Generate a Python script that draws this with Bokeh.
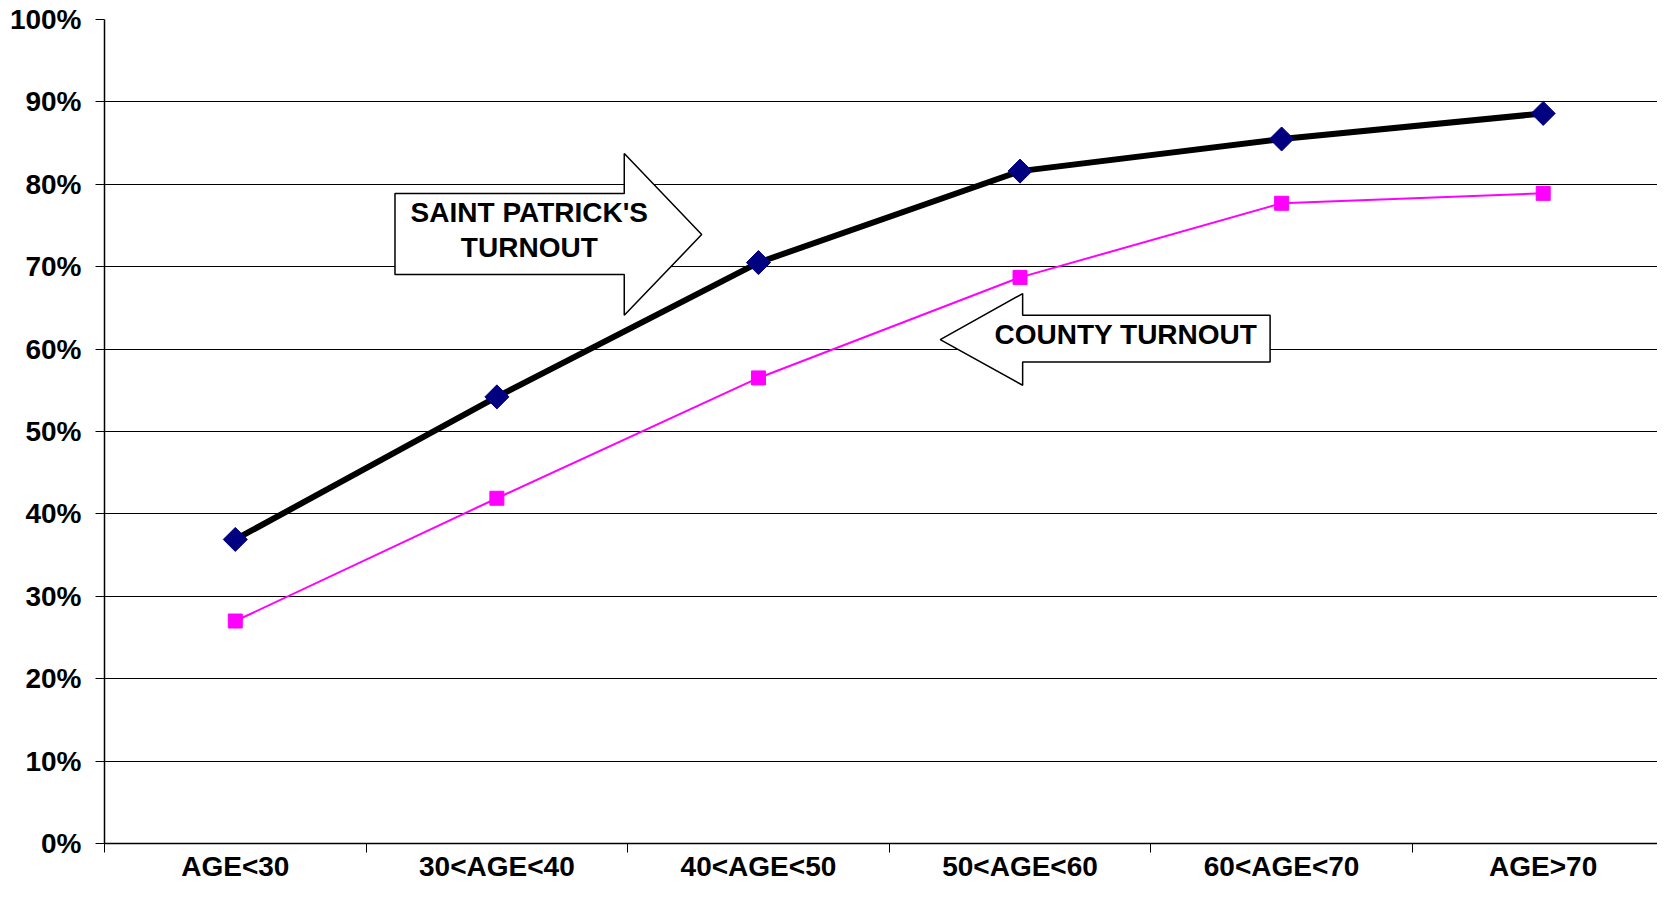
import math
from bokeh.plotting import figure
from bokeh.models import Range1d, FixedTicker, NumeralTickFormatter, PolyAnnotation, Label
from bokeh.embed import file_html
from bokeh.resources import INLINE

# ---- data ----
categories = ["AGE<30", "30<AGE<40", "40<AGE<50", "50<AGE<60", "60<AGE<70", "AGE>70"]
saint_patrick = [0.369, 0.542, 0.705, 0.816, 0.855, 0.886]
county = [0.270, 0.419, 0.565, 0.687, 0.777, 0.789]
y_ticks = [0.0, 0.1, 0.2, 0.3, 0.4, 0.5, 0.6, 0.7, 0.8, 0.9, 1.0]

x_pos = [i + 0.5 for i in range(len(categories))]
boundaries = list(range(len(categories) + 1))

FONT = "Liberation Sans"
FS = "28px"

p = figure(width=1657, height=884,
           x_range=Range1d(0, 5.937), y_range=Range1d(0, 1),
           output_backend="svg", toolbar_location=None,
           min_border_left=104, min_border_right=0,
           min_border_top=19, min_border_bottom=41)
p.outline_line_color = None
p.background_fill_color = "white"
p.border_fill_color = "white"

# grid
p.xgrid.visible = False
p.ygrid.ticker = FixedTicker(ticks=y_ticks)
p.ygrid.grid_line_color = "black"
p.ygrid.grid_line_width = 1

# y axis
yax = p.yaxis[0]
yax.ticker = FixedTicker(ticks=y_ticks)
yax.formatter = NumeralTickFormatter(format="0%")
yax.major_tick_out = 9
yax.major_tick_in = 0
yax.minor_tick_line_color = None
yax.axis_line_color = "black"
yax.axis_line_width = 1.5
yax.major_label_standoff = 14
yax.major_label_text_font = FONT
yax.major_label_text_font_style = "bold"
yax.major_label_text_font_size = FS
yax.major_label_text_color = "black"

# x axis
xax = p.xaxis[0]
xax.ticker = FixedTicker(ticks=x_pos, minor_ticks=boundaries)
xax.major_label_overrides = {x: c for x, c in zip(x_pos, categories)}
xax.major_tick_out = 0
xax.major_tick_in = 0
xax.major_tick_line_color = None
xax.minor_tick_out = 9
xax.minor_tick_in = 0
xax.minor_tick_line_color = "black"
xax.axis_line_color = "black"
xax.axis_line_width = 1.5
xax.major_label_standoff = -2
xax.major_label_text_font = FONT
xax.major_label_text_font_style = "bold"
xax.major_label_text_font_size = FS
xax.major_label_text_color = "black"

# series
p.line(x_pos, county, line_color="#FF00FF", line_width=2)
p.scatter(x_pos, county, marker="square", size=14,
          fill_color="#FF00FF", line_color="#FF00FF")
p.line(x_pos, saint_patrick, line_color="black", line_width=6)
p.scatter(x_pos, saint_patrick, marker="square", size=17, angle=math.pi / 4,
          fill_color="#000080", line_color="#000080")

# callout arrows
arrow_kw = dict(fill_color="white", fill_alpha=1.0, line_color="black",
                line_alpha=1.0, line_width=1.5)
sp_arrow = PolyAnnotation(
    xs=[1.1105, 1.987, 1.987, 2.283, 1.987, 1.987, 1.1105],
    ys=[0.7888, 0.7888, 0.8373, 0.7390, 0.6410, 0.6904, 0.6904], **arrow_kw)
co_arrow = PolyAnnotation(
    xs=[3.195, 3.510, 3.510, 4.456, 4.456, 3.510, 3.510],
    ys=[0.6115, 0.6674, 0.6410, 0.6410, 0.5843, 0.5843, 0.5561], **arrow_kw)
p.add_layout(sp_arrow)
p.add_layout(co_arrow)

lab_kw = dict(text_align="center", text_baseline="middle", text_font=FONT,
              text_font_style="bold", text_font_size=FS, text_color="black")
p.add_layout(Label(x=1.624, y=0.7657, text="SAINT PATRICK'S", **lab_kw))
p.add_layout(Label(x=1.624, y=0.7230, text="TURNOUT", **lab_kw))
p.add_layout(Label(x=3.905, y=0.6177, text="COUNTY TURNOUT", **lab_kw))

open("out.html", "w").write(file_html(p, INLINE))
